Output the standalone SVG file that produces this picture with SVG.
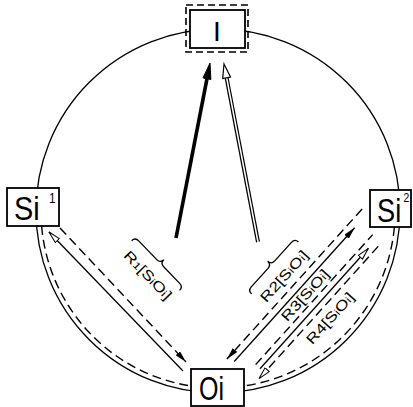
<svg xmlns="http://www.w3.org/2000/svg" width="413" height="407" viewBox="0 0 413 407">
<style>
.ln{fill:none;stroke:#000;stroke-width:1.3}
.ds{fill:none;stroke:#000;stroke-width:1.4;stroke-dasharray:9 5}
.box{fill:#fff;stroke:#000;stroke-width:1.8}
.t{font-family:"Liberation Sans",Arial,sans-serif;fill:#000}
.lab{font-family:"Liberation Sans",Arial,sans-serif;font-size:14px;fill:#000}
</style>
<defs>
<marker id="af" viewBox="0 0 12 6" refX="12" refY="3" markerWidth="12" markerHeight="6" markerUnits="userSpaceOnUse" orient="auto"><path d="M0,0 L12,3 L0,6 z" fill="#000"/></marker>
<marker id="ah" viewBox="0 0 13 7" refX="12.5" refY="3.5" markerWidth="13" markerHeight="7" markerUnits="userSpaceOnUse" orient="auto"><path d="M0.5,0.7 L12.5,3.5 L0.5,6.3 z" fill="#fff" stroke="#000" stroke-width="1"/></marker>
</defs>
<rect width="413" height="407" fill="#fff"/>
<g id="connectors">
<circle cx="218" cy="211" r="182" class="ln" stroke-width="1.6"/>
<path d="M41.6,226 A177,177 0 0 0 191,386" class="ds"/>
<path d="M394.4,227 A177,177 0 0 1 244,386" class="ds"/>
<line x1="176" y1="238" x2="207" y2="78.7" stroke="#000" stroke-width="3.6"/>
<path d="M210,63 L210.9,79.5 L203,77.9 z" fill="#000" stroke="#000" stroke-width="1"/>
<line x1="258" y1="242" x2="226.6" y2="77.8" stroke="#000" stroke-width="4"/>
<line x1="258.3" y1="243.5" x2="226.3" y2="76" stroke="#fff" stroke-width="1.5"/>
<path d="M224,64 L230.5,77 L222.7,78.5 z" fill="#fff" stroke="#000" stroke-width="1.2"/>
<line x1="183" y1="371" x2="49" y2="232" class="ln" marker-end="url(#ah)"/>
<line x1="60" y1="228" x2="186" y2="362" class="ds" marker-end="url(#af)"/>
<line x1="362.1" y1="209" x2="227" y2="359" class="ds" marker-end="url(#af)"/>
<line x1="234.2" y1="361.5" x2="354.6" y2="227.8" class="ln" marker-end="url(#af)"/>
<line x1="255.6" y1="364.6" x2="372.7" y2="234.6" class="ds"/>
<line x1="260" y1="368.7" x2="368.4" y2="248.3" class="ln" marker-end="url(#ah)"/>
<line x1="378.2" y1="246.4" x2="259.1" y2="378.6" class="ds" marker-end="url(#ah)"/>
</g>
<g id="labels">
<g transform="translate(148,275) rotate(46)">
<text class="lab" x="0" y="5" text-anchor="middle" textLength="62" lengthAdjust="spacingAndGlyphs">R<tspan font-size="10">1</tspan>[S<tspan font-size="10">i</tspan>O<tspan font-size="10">i</tspan>]</text>
<path d="M-36,-12 Q-36,-17 -31,-17 L-5,-17 Q0,-17 0,-22 Q0,-17 5,-17 L28,-17 Q33,-17 33,-12" class="ln" stroke-width="1.1"/>
</g>
<g transform="translate(284,276) rotate(-48)">
<text class="lab" x="0" y="5" text-anchor="middle" textLength="64" lengthAdjust="spacingAndGlyphs">R2[S<tspan font-size="10">i</tspan>O<tspan font-size="10">i</tspan>]</text>
<path d="M-35,-12 Q-35,-17 -30,-17 L-5,-17 Q0,-17 0,-22 Q0,-17 5,-17 L30,-17 Q35,-17 35,-12" class="ln" stroke-width="1.1"/>
</g>
<g transform="translate(305,295) rotate(-48)">
<text class="lab" x="0" y="5" text-anchor="middle" textLength="64" lengthAdjust="spacingAndGlyphs">R3[S<tspan font-size="10">i</tspan>O<tspan font-size="10">i</tspan>]</text>
</g>
<g transform="translate(330,318) rotate(-48)">
<text class="lab" x="0" y="5" text-anchor="middle" textLength="64" lengthAdjust="spacingAndGlyphs">R4[S<tspan font-size="10">i</tspan>O<tspan font-size="10">i</tspan>]</text>
</g>
</g>
<g id="node-I">
<rect x="186" y="5" width="62" height="47" fill="none" stroke="#000" stroke-width="1.6" stroke-dasharray="7 4"/>
<rect x="190" y="10" width="55" height="38" class="box" stroke-width="2.6"/>
<text class="t" x="217" y="41" font-size="28" text-anchor="middle">I</text>
</g>
<g id="node-Si1">
<rect x="7" y="188" width="52" height="38" class="box"/>
<text class="t" transform="translate(14,220) scale(0.85,1)" font-size="34">Si<tspan font-size="14" dx="11" dy="-17">1</tspan></text>
</g>
<g id="node-Si2">
<rect x="370" y="190" width="41" height="37" class="box"/>
<text class="t" transform="translate(377,222) scale(0.8,1)" font-size="34">Si<tspan font-size="13" dx="3" dy="-20">2</tspan></text>
</g>
<g id="node-Oi">
<rect x="191" y="369" width="53" height="37" class="box"/>
<text class="t" x="199" y="400" font-size="33" textLength="25" lengthAdjust="spacingAndGlyphs">Oi</text>
</g>
</svg>
